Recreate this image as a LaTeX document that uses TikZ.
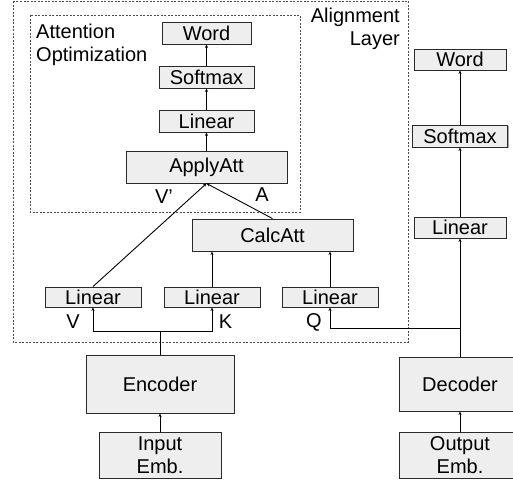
\documentclass[tikz,border=0pt]{standalone}
\usepackage{fontspec}
\setmainfont{Liberation Sans}
\usetikzlibrary{arrows.meta,shadows}
\definecolor{boxfill}{HTML}{EEEEEE}
\definecolor{boxline}{HTML}{2A2A2A}
\begin{document}
\begin{tikzpicture}[x=1pt,y=-1pt,
  font=\fontsize{20}{23}\selectfont,
  blk/.style={draw=boxline,fill=boxfill,line width=0.9pt,inner sep=0pt,
    drop shadow={shadow xshift=1pt,shadow yshift=-1pt,opacity=0.35,fill=black}},
  conn/.style={line width=0.9pt,draw=black},
  arr/.style={conn,-{Stealth[length=3.5pt,width=3pt]}},
  dbox/.style={draw=black!70,line width=0.9pt,dash pattern=on 2pt off 1.5pt},
  lbl/.style={inner sep=0pt}]
\clip (0,0) rectangle (513,479);
% dashed frames
\draw[dbox] (13,1) rectangle (408,342);
\draw[dbox] (30,15) rectangle (300,212);
\node[lbl,anchor=north west,align=left] (attn) at (36,24) {Attention\\Optimization};
\node[lbl,anchor=north east,align=right] (align) at (400,8) {Alignment\\Layer};
% left stack
\node[blk,minimum width=89,minimum height=22] (wordL) at (206.5,33) {Word};
\node[blk,minimum width=95,minimum height=22] (softL) at (206.5,77) {Softmax};
\node[blk,minimum width=95,minimum height=22] (linL) at (206.5,121) {Linear};
\node[blk,minimum width=161,minimum height=32] (apply) at (206.5,167) {ApplyAtt};
\node[blk,minimum width=161,minimum height=32] (calc) at (272.5,235) {CalcAtt};
\node[blk,minimum width=96,minimum height=20] (linV) at (93,297) {Linear};
\node[blk,minimum width=96,minimum height=20] (linK) at (212,297) {Linear};
\node[blk,minimum width=96,minimum height=20] (linQ) at (330,297) {Linear};
% right stack
\node[blk,minimum width=92,minimum height=21] (wordR) at (460,59.5) {Word};
\node[blk,minimum width=95,minimum height=22] (softR) at (460,136) {Softmax};
\node[blk,minimum width=92,minimum height=21] (linR) at (460,227.5) {Linear};
% encoder / decoder
\node[blk,minimum width=148,minimum height=58] (enc) at (160,384) {Encoder};
\node[blk,minimum width=122,minimum height=46,align=center] (inp) at (160,455) {Input\\Emb.};
\node[blk,minimum width=122,minimum height=54] (dec) at (460,384) {Decoder};
\node[blk,minimum width=122,minimum height=46,align=center] (outp) at (460,455) {Output\\Emb.};
% labels
\node[lbl] (lVp) at (164,197) {V'};
\node[lbl] (lA) at (262,195) {A};
\node[lbl] (lV) at (73,322) {V};
\node[lbl] (lK) at (225.5,322) {K};
\node[lbl] (lQ) at (314,322) {Q};
% junction coordinates
\coordinate (encJ) at (160,331);
\coordinate (vJ) at (93,331);
\coordinate (kJ) at (212,331);
\coordinate (decJ) at (460,328);
\coordinate (qJ) at (330,328);
% connectors
\draw[arr] (inp) -- (enc);
\draw[arr] (outp) -- (dec);
\draw[conn] (enc.north) -- (encJ);
\draw[arr] (kJ) -- (vJ) -- (linV.south);
\draw[arr] (vJ) -- (kJ) -- (linK.south);
\draw[arr] (dec.north) -- (linR.south);
\draw[arr] (decJ) -- (qJ) -- (linQ.south);
\draw[arr] (linR) -- (softR);
\draw[arr] (softR) -- (wordR);
\draw[arr] (linQ.north) -- (linQ.north |- calc.south);
\draw[arr] (linK.north) -- (linK.north |- calc.south);
\draw[arr] (linV.north) -- (apply.south);
\draw[arr] (calc.north) -- (apply.south);
\draw[arr] (apply) -- (linL);
\draw[arr] (linL) -- (softL);
\draw[arr] (softL) -- (wordL);
\end{tikzpicture}
\end{document}
